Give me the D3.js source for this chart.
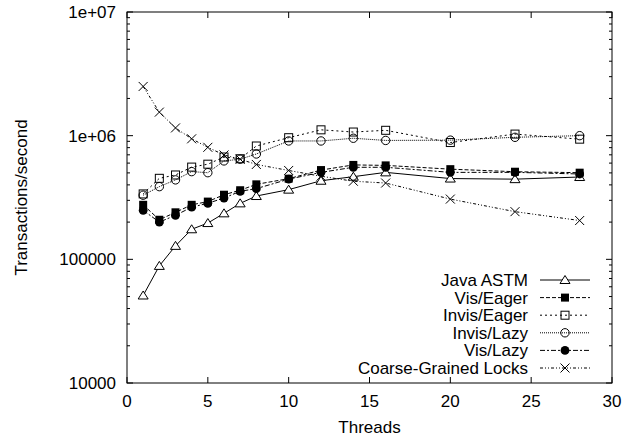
<!DOCTYPE html>
<html>
<head>
<meta charset="utf-8">
<script src="https://d3js.org/d3.v7.min.js"></script>
<style>
    body { margin: 0; background: #fff; }
    text { font-family: "Liberation Sans", Arial, sans-serif; font-size: 17px; fill: #000; }
</style>
</head>
<body>
<div id="chart-area"></div>
<script>

// Data
var threads = [1, 2, 3, 4, 5, 6, 7, 8, 10, 12, 14, 16, 20, 24, 28];

var javaAstm   = [51000, 88500, 128500, 175000, 196500, 235500, 283500, 325000, 366000, 432000, 466000, 505000, 450000, 445000, 463000];
var visEager   = [276000, 209000, 240000, 276000, 293000, 333000, 362000, 404000, 449000, 527000, 580000, 575000, 536000, 511000, 502000];
var invisEager = [338000, 452000, 481000, 557000, 588000, 672000, 651000, 825000, 963000, 1115000, 1070000, 1105000, 880000, 1030000, 937000];
var invisLazy  = [330000, 387000, 439000, 512000, 502000, 625000, 645000, 711000, 906000, 906000, 953000, 915000, 920000, 970000, 1000000];
var visLazy    = [249000, 200000, 227000, 264000, 284000, 313000, 355000, 373000, 445000, 505000, 555000, 555000, 505000, 505000, 490000];
var coarse     = [2500000, 1550000, 1155000, 943000, 805000, 698000, 645000, 585000, 523000, 470000, 428000, 414000, 307000, 243000, 206000];

var seriesNames = ["Java ASTM", "Vis/Eager", "Invis/Eager", "Invis/Lazy", "Vis/Lazy", "Coarse-Grained Locks"];
var seriesValues = [javaAstm, visEager, invisEager, invisLazy, visLazy, coarse];

var xTicks = [0, 5, 10, 15, 20, 25, 30];
var yTicks = [10000, 100000, 1000000, 10000000];
var yTickLabels = ["10000", "100000", "1e+06", "1e+07"];


/*
 * ThroughputVis - gnuplot style log chart
 */
ThroughputVis = function(_parentElement){
    this.parentElement = _parentElement;
    this.initVis();
}

ThroughputVis.prototype.initVis = function(){
    var vis = this;

    vis.margin = { top: 12, right: 21, bottom: 55, left: 127 };
    vis.width = 633 - vis.margin.left - vis.margin.right;
    vis.height = 438 - vis.margin.top - vis.margin.bottom;

    vis.svg = d3.select("#" + vis.parentElement).append("svg")
        .attr("width", 633)
        .attr("height", 438)
        .append("g")
        .attr("transform", "translate(" + vis.margin.left + "," + vis.margin.top + ")");

    vis.x = d3.scaleLinear().domain([0, 30]).range([0, vis.width]);
    vis.y = d3.scaleLog().domain([10000, 10000000]).range([vis.height, 0]);

    // styles per series: dash pattern and marker
    vis.dashes = ["none", "4,2", "2,3", "1,1", "5,2,2,2", "3,2,1,2,1,2"];
    vis.markers = ["triangle", "fsquare", "square", "circle", "fcircle", "cross"];

    vis.drawAxes();
    vis.wrangleData();
}

ThroughputVis.prototype.drawAxes = function(){
    var vis = this;
    var ax = vis.svg.append("g").attr("class", "axes");

    // minor log ticks
    var minor = [];
    yTicks.slice(0, -1).forEach(function(d){
        d3.range(2, 10).forEach(function(k){ minor.push(d * k); });
    });

    ax.selectAll(".ytick-minor").data(minor).enter().append("path")
        .attr("d", function(d){
            var y = vis.y(d);
            return "M0," + y + "h3M" + vis.width + "," + y + "h-3";
        })
        .attr("stroke", "#000");

    ax.selectAll(".ytick").data(yTicks).enter().append("path")
        .attr("d", function(d){
            var y = vis.y(d);
            return "M0," + y + "h6M" + vis.width + "," + y + "h-6";
        })
        .attr("stroke", "#000");

    ax.selectAll(".xtick").data(xTicks).enter().append("path")
        .attr("d", function(d){
            var x = vis.x(d);
            return "M" + x + "," + vis.height + "v-6M" + x + ",0v6";
        })
        .attr("stroke", "#000");

    ax.selectAll(".ylabel").data(yTicks).enter().append("text")
        .attr("x", -11)
        .attr("y", function(d){ return vis.y(d); })
        .attr("dy", "0.35em")
        .attr("text-anchor", "end")
        .text(function(d, i){ return yTickLabels[i]; });

    ax.selectAll(".xlabel").data(xTicks).enter().append("text")
        .attr("x", function(d){ return vis.x(d); })
        .attr("y", vis.height + 24)
        .attr("text-anchor", "middle")
        .text(function(d){ return d; });

    ax.append("rect")
        .attr("width", vis.width)
        .attr("height", vis.height)
        .attr("fill", "none")
        .attr("stroke", "#000");

    // Axis titles
    vis.svg.append("text")
        .attr("x", vis.width / 2)
        .attr("y", vis.height + 50)
        .attr("text-anchor", "middle")
        .text("Threads");

    vis.svg.append("text")
        .attr("transform", "translate(" + (-100) + "," + (vis.height / 2) + ") rotate(-90)")
        .attr("text-anchor", "middle")
        .text("Transactions/second");
}

ThroughputVis.prototype.wrangleData = function(){
    var vis = this;

    vis.displayData = seriesNames.map(function(name, i){
        return {
            name: name,
            index: i,
            values: threads.map(function(t, j){ return { t: t, v: seriesValues[i][j] }; })
        };
    });

    vis.updateVis();
}

ThroughputVis.prototype.drawMarker = function(sel, kind){
    if (kind == "triangle") {
        sel.append("path").attr("d", "M-5,3.5L5,3.5L0,-4.5Z").attr("fill", "#fff").attr("stroke", "#000");
    } else if (kind == "fsquare") {
        sel.append("rect").attr("x", -4).attr("y", -4).attr("width", 8).attr("height", 8).attr("fill", "#000");
    } else if (kind == "square") {
        sel.append("rect").attr("x", -4).attr("y", -4).attr("width", 8).attr("height", 8)
            .attr("fill", "none").attr("stroke", "#000");
    } else if (kind == "circle") {
        sel.append("circle").attr("r", 4.2).attr("fill", "none").attr("stroke", "#000");
    } else if (kind == "fcircle") {
        sel.append("circle").attr("r", 4.4).attr("fill", "#000");
    } else {
        sel.append("path").attr("d", "M-4.5,-4.5L4.5,4.5M-4.5,4.5L4.5,-4.5").attr("stroke", "#000");
    }
}

ThroughputVis.prototype.updateVis = function(){
    var vis = this;

    var line = d3.line()
        .x(function(d){ return vis.x(d.t); })
        .y(function(d){ return vis.y(d.v); });

    var series = vis.svg.selectAll(".series")
        .data(vis.displayData)
        .enter().append("g")
        .attr("class", "series");

    series.append("path")
        .attr("d", function(d){ return line(d.values); })
        .attr("fill", "none")
        .attr("stroke", "#000")
        .attr("stroke-width", 1)
        .attr("stroke-dasharray", function(d){ return vis.dashes[d.index]; });

    series.each(function(s){
        d3.select(this).selectAll(".pt")
            .data(s.values)
            .enter().append("g")
            .attr("transform", function(d){ return "translate(" + vis.x(d.t) + "," + vis.y(d.v) + ")"; })
            .each(function(){ vis.drawMarker(d3.select(this), vis.markers[s.index]); });
    });

    // Key (bottom right, gnuplot style)
    var key = vis.svg.append("g")
        .attr("transform", "translate(401,268)");

    var rows = key.selectAll(".key-row")
        .data(vis.displayData)
        .enter().append("g")
        .attr("transform", function(d, i){ return "translate(0," + (i * 17.6) + ")"; });

    rows.append("text")
        .attr("x", 0)
        .attr("dy", "0.35em")
        .attr("text-anchor", "end")
        .text(function(d){ return d.name; });

    rows.append("path")
        .attr("d", "M12,0H62")
        .attr("stroke", "#000")
        .attr("stroke-dasharray", function(d){ return vis.dashes[d.index]; });

    rows.append("g")
        .attr("transform", "translate(37,0)")
        .each(function(d){ vis.drawMarker(d3.select(this), vis.markers[d.index]); });
}

var throughputVis = new ThroughputVis("chart-area");

</script>
</body>
</html>
